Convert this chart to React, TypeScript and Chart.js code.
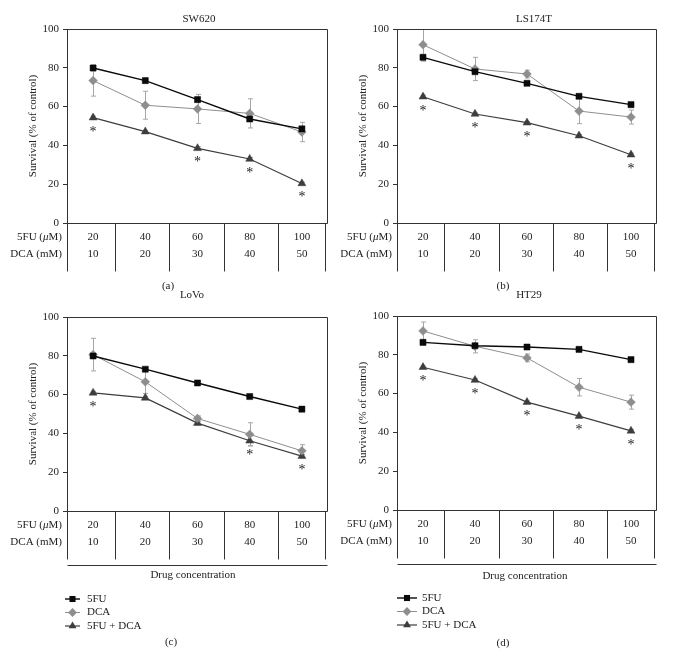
import { useEffect, useRef } from 'react'
import { Chart, registerables } from 'chart.js'
Chart.register(...registerables)

const SERIF = '"Liberation Serif", "DejaVu Serif", serif'
const INK = '#222'

const DOSE_5FU = ['20', '40', '60', '80', '100']
const DOSE_DCA = ['10', '20', '30', '40', '50']
const SERIES = ['5FU', 'DCA', '5FU + DCA']

// (a) SW620
const SW620_5FU = [79.9, 73.4, 63.6, 53.6, 48.5]
const SW620_5FU_ERR = [1.6, 0.6, 1.0, 1.2, 1.0]
const SW620_DCA = [73.4, 60.7, 58.8, 56.5, 46.9]
const SW620_DCA_ERR = [8.0, 7.2, 7.5, 7.5, 5.0]
const SW620_MIX = [54.3, 47.1, 38.5, 33.0, 20.4]
const SW620_MIX_ERR = [0.8, 0.6, 0.8, 0.8, 0.6]
const SW620_STAR = [1, 0, 1, 1, 1]

// (b) LS174T
const LS174T_5FU = [85.4, 78.0, 72.0, 65.3, 61.0]
const LS174T_5FU_ERR = [1.5, 1.0, 0.8, 0.8, 0.8]
const LS174T_DCA = [91.9, 79.4, 76.8, 57.7, 54.6]
const LS174T_DCA_ERR = [8.5, 6.0, 2.0, 6.5, 3.6]
const LS174T_MIX = [65.1, 56.2, 51.7, 45.0, 35.2]
const LS174T_MIX_ERR = [0.8, 0.6, 0.6, 0.6, 0.8]
const LS174T_STAR = [1, 1, 1, 0, 1]

// (c) LoVo
const LOVO_5FU = [79.9, 73.1, 66.0, 59.0, 52.5]
const LOVO_5FU_ERR = [1.0, 0.6, 0.6, 0.6, 0.6]
const LOVO_DCA = [80.6, 66.6, 47.7, 39.5, 31.0]
const LOVO_DCA_ERR = [8.4, 6.0, 1.3, 6.0, 3.2]
const LOVO_MIX = [60.9, 58.3, 45.3, 36.2, 28.3]
const LOVO_MIX_ERR = [0.8, 0.8, 0.8, 2.5, 0.8]
const LOVO_STAR = [1, 0, 0, 1, 1]

// (d) HT29
const HT29_5FU = [86.4, 84.7, 84.0, 82.8, 77.5]
const HT29_5FU_ERR = [0.8, 0.8, 0.6, 0.6, 0.6]
const HT29_DCA = [92.3, 84.4, 78.4, 63.3, 55.6]
const HT29_DCA_ERR = [4.6, 3.4, 2.0, 4.5, 3.6]
const HT29_MIX = [73.6, 67.0, 55.6, 48.4, 40.8]
const HT29_MIX_ERR = [0.6, 0.6, 0.6, 0.6, 0.6]
const HT29_STAR = [1, 1, 1, 1, 1]

const STYLES = [
  { color: '#0a0a0a', line: 1.4, point: 'rect', r: 4.3 },
  { color: '#8e8e8e', line: 1, point: 'rectRot', r: 4.4 },
  { color: '#3d3d3d', line: 1.2, point: 'triangle', r: 4.6 },
]

type PanelProps = {
  left: number; top: number; width: number; height: number
  area: number[] // left, top, right, bottom of the plot, page px
  title: string; titleX: number; titleY: number
  tag: string; tagX: number; tagY: number
  fu: number[]; fuErr: number[]; dca: number[]; dcaErr: number[]; mix: number[]; mixErr: number[]
  stars: number[]
  legend?: { x: number; w: number; text: number; y: number }
  footer?: { x: number; y: number }
}

function marker(ctx: CanvasRenderingContext2D, k: number, x: number, y: number) {
  const { color, r } = STYLES[k]
  ctx.fillStyle = color
  ctx.beginPath()
  if (k === 0) {
    const s = r * Math.SQRT1_2
    ctx.rect(x - s, y - s, 2 * s, 2 * s)
  } else if (k === 1) {
    ctx.moveTo(x, y - r); ctx.lineTo(x + r, y); ctx.lineTo(x, y + r); ctx.lineTo(x - r, y)
  } else {
    for (let i = 0; i < 3; i++) {
      const a = (i * 2 * Math.PI) / 3
      ctx.lineTo(x + Math.sin(a) * r, y - Math.cos(a) * r)
    }
  }
  ctx.closePath()
  ctx.fill()
}

function rich(ctx: CanvasRenderingContext2D, parts: [string, boolean][], right: number, y: number) {
  const fonts = parts.map(([, it]) => `${it ? 'italic ' : ''}11px ${SERIF}`)
  const widths = parts.map(([s], i) => { ctx.font = fonts[i]; return ctx.measureText(s).width })
  let x = right - widths.reduce((a, b) => a + b, 0)
  ctx.textAlign = 'left'
  parts.forEach(([s], i) => { ctx.font = fonts[i]; ctx.fillText(s, x, y); x += widths[i] })
}

function Panel(p: PanelProps) {
  const ref = useRef<HTMLCanvasElement>(null)

  useEffect(() => {
    if (!ref.current) return
    const [al, at, ar, ab] = p.area
    const L = al - p.left, T = at - p.top, R = ar - p.left, B = ab - p.top
    const values = [p.fu, p.dca, p.mix]
    const errs = [p.fuErr, p.dcaErr, p.mixErr]

    const deco = {
      id: 'deco',
      beforeDatasetsDraw(chart: Chart) {
        const { ctx, chartArea: a } = chart
        const x = chart.scales.x, y = chart.scales.y
        ctx.save()
        ctx.beginPath(); ctx.rect(a.left, a.top, a.right - a.left, a.bottom - a.top); ctx.clip()
        ctx.strokeStyle = '#a6a6a6'; ctx.lineWidth = 1
        values.forEach((vals, k) => vals.forEach((v, i) => {
          const px = Math.round(x.getPixelForValue(i)) + 0.5
          const y1 = y.getPixelForValue(v + errs[k][i]), y2 = y.getPixelForValue(v - errs[k][i])
          ctx.beginPath()
          ctx.moveTo(px, y1); ctx.lineTo(px, y2)
          ctx.moveTo(px - 2.5, y1); ctx.lineTo(px + 2.5, y1)
          ctx.moveTo(px - 2.5, y2); ctx.lineTo(px + 2.5, y2)
          ctx.stroke()
        }))
        ctx.restore()
      },
      afterDraw(chart: Chart) {
        const { ctx, chartArea: a } = chart
        const x = chart.scales.x, y = chart.scales.y
        const top = Math.round(a.top) + 0.5, bot = Math.round(a.bottom) + 0.5
        const lft = Math.round(a.left) + 0.5, rgt = Math.round(a.right) - 0.5
        ctx.save()
        ctx.strokeStyle = '#333'; ctx.lineWidth = 1
        ctx.beginPath()
        ctx.moveTo(lft, top); ctx.lineTo(rgt, top); ctx.lineTo(rgt, bot); ctx.lineTo(lft, bot)
        // table grid
        const cols = [1, 2, 3, 4].map(k => Math.round(x.getPixelForValue(2.5 + (k - 3) * 1.044)) + 0.5)
        ;[lft, ...cols, rgt - 2].forEach(cx => { ctx.moveTo(cx, bot); ctx.lineTo(cx, bot + 48) })
        if (p.footer) { ctx.moveTo(lft, bot + 54); ctx.lineTo(rgt, bot + 54) }
        ctx.stroke()

        ctx.fillStyle = INK
        ctx.textBaseline = 'middle'
        ctx.font = `11px ${SERIF}`
        ctx.textAlign = 'center'
        DOSE_5FU.forEach((d, i) => ctx.fillText(d, x.getPixelForValue(i), bot + 14))
        DOSE_DCA.forEach((d, i) => ctx.fillText(d, x.getPixelForValue(i), bot + 31))
        rich(ctx, [['5FU (', false], ['μ', true], ['M)', false]], a.left - 5, bot + 14)
        rich(ctx, [['DCA (mM)', false]], a.left - 5, bot + 31)

        // asterisks
        ctx.font = `14px ${SERIF}`
        ctx.textAlign = 'center'
        ctx.textBaseline = 'alphabetic'
        p.stars.forEach((s, i) => {
          if (s) ctx.fillText('*', x.getPixelForValue(i), y.getPixelForValue(p.mix[i]) + 18)
        })

        ctx.textBaseline = 'middle'
        ctx.font = `11px ${SERIF}`
        ctx.fillText(p.title, p.titleX - p.left, p.titleY - p.top)
        ctx.fillText(p.tag, p.tagX - p.left, p.tagY - p.top)
        if (p.footer) ctx.fillText('Drug concentration', p.footer.x - p.left, p.footer.y - p.top)

        ctx.save()
        ctx.translate(a.left - 34, (a.top + a.bottom) / 2)
        ctx.rotate(-Math.PI / 2)
        ctx.fillText('Survival (% of control)', 0, 0)
        ctx.restore()

        if (p.legend) {
          const g = p.legend
          SERIES.forEach((s, k) => {
            const ly = g.y - p.top + k * 13.5
            const lx = g.x - p.left
            ctx.strokeStyle = STYLES[k].color; ctx.lineWidth = STYLES[k].line
            ctx.beginPath(); ctx.moveTo(lx, ly); ctx.lineTo(lx + g.w, ly); ctx.stroke()
            marker(ctx, k, lx + g.w / 2, ly)
            ctx.fillStyle = INK; ctx.textAlign = 'left'
            ctx.fillText(s, g.text - p.left, ly)
          })
        }
        ctx.restore()
      },
    }

    const chart = new Chart(ref.current, {
      type: 'line',
      data: {
        labels: DOSE_5FU,
        datasets: values.map((v, k) => ({
          label: SERIES[k],
          data: v,
          borderColor: STYLES[k].color,
          backgroundColor: STYLES[k].color,
          borderWidth: STYLES[k].line,
          pointStyle: STYLES[k].point as any,
          pointRadius: STYLES[k].r,
          pointBorderWidth: 0.5,
          tension: 0,
        })),
      },
      options: {
        responsive: false,
        animation: false,
        events: [],
        layout: { padding: { left: 0, top: T, right: p.width - R, bottom: p.height - B } },
        plugins: { legend: { display: false }, tooltip: { enabled: false } },
        scales: {
          x: { type: 'category', offset: true, display: false },
          y: {
            min: 0, max: 100,
            afterFit: (s: any) => { s.width = L },
            ticks: { stepSize: 20, color: INK, font: { family: SERIF, size: 11 }, padding: 4 },
            grid: { drawOnChartArea: false, drawTicks: true, tickLength: 4, color: '#333' },
            border: { color: '#333', width: 1 },
          },
        },
      },
      plugins: [deco],
    })
    return () => chart.destroy()
  }, [])

  return (
    <canvas
      ref={ref}
      width={p.width}
      height={p.height}
      style={{ position: 'absolute', left: p.left, top: p.top, width: p.width, height: p.height }}
    />
  )
}

export default function App() {
  return (
    <div style={{ position: 'absolute', left: 0, top: 0, width: 683, height: 656, background: '#fff' }}>
      <Panel
        left={0} top={0} width={341} height={300} area={[67, 29, 328, 223]}
        title="SW620" titleX={199} titleY={19} tag="(a)" tagX={168} tagY={286}
        fu={SW620_5FU} fuErr={SW620_5FU_ERR} dca={SW620_DCA} dcaErr={SW620_DCA_ERR}
        mix={SW620_MIX} mixErr={SW620_MIX_ERR} stars={SW620_STAR}
      />
      <Panel
        left={341} top={0} width={342} height={300} area={[397, 29, 657, 223]}
        title="LS174T" titleX={534} titleY={19} tag="(b)" tagX={503} tagY={286}
        fu={LS174T_5FU} fuErr={LS174T_5FU_ERR} dca={LS174T_DCA} dcaErr={LS174T_DCA_ERR}
        mix={LS174T_MIX} mixErr={LS174T_MIX_ERR} stars={LS174T_STAR}
      />
      <Panel
        left={0} top={284} width={341} height={372} area={[67, 317, 328, 511]}
        title="LoVo" titleX={192} titleY={295} tag="(c)" tagX={171} tagY={642}
        fu={LOVO_5FU} fuErr={LOVO_5FU_ERR} dca={LOVO_DCA} dcaErr={LOVO_DCA_ERR}
        mix={LOVO_MIX} mixErr={LOVO_MIX_ERR} stars={LOVO_STAR}
        legend={{ x: 65, w: 15, text: 87, y: 599 }} footer={{ x: 193, y: 575 }}
      />
      <Panel
        left={341} top={284} width={342} height={372} area={[397, 316, 657, 510]}
        title="HT29" titleX={529} titleY={295} tag="(d)" tagX={503} tagY={643}
        fu={HT29_5FU} fuErr={HT29_5FU_ERR} dca={HT29_DCA} dcaErr={HT29_DCA_ERR}
        mix={HT29_MIX} mixErr={HT29_MIX_ERR} stars={HT29_STAR}
        legend={{ x: 397, w: 20, text: 422, y: 598 }} footer={{ x: 525, y: 576 }}
      />
    </div>
  )
}
